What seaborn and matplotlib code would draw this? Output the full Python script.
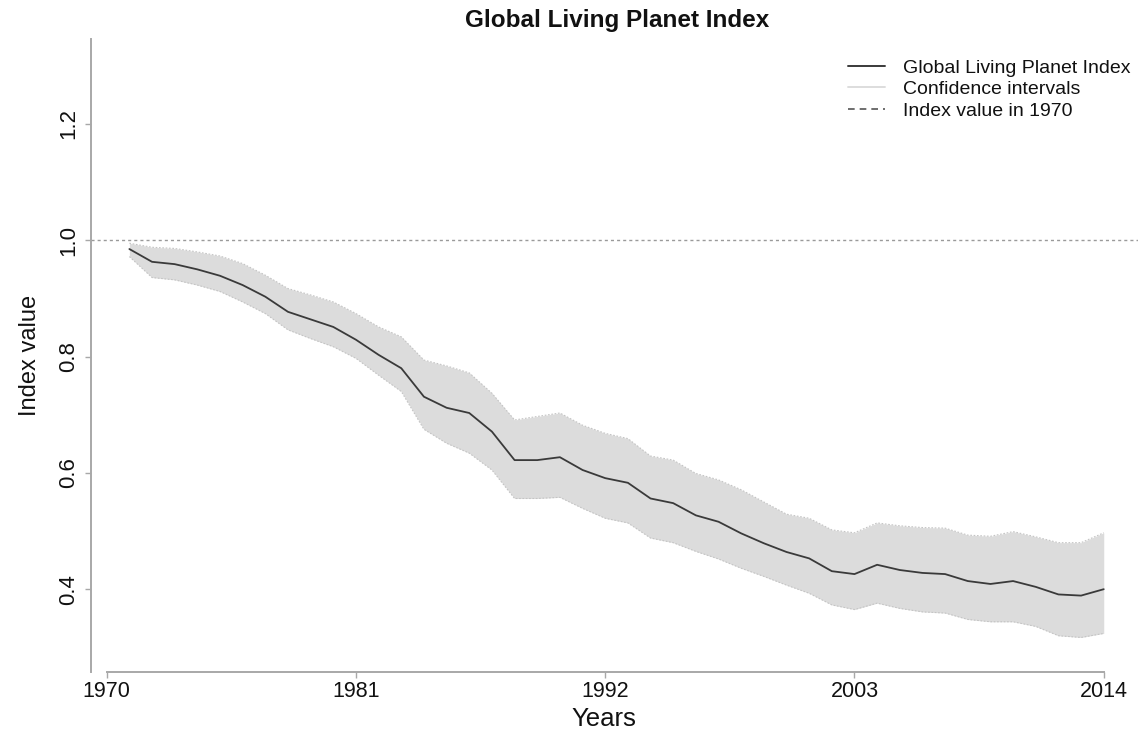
import matplotlib
matplotlib.use("Agg")
import matplotlib.pyplot as plt
from matplotlib.lines import Line2D
import seaborn as sns
import pandas as pd

# Global Living Planet Index, 1971-2014, with confidence bounds
years = list(range(1971, 2015))
index_value = [0.985, 0.963, 0.959, 0.950, 0.939, 0.923, 0.903, 0.877, 0.864, 0.851,
               0.829, 0.803, 0.780, 0.731, 0.712, 0.703, 0.671, 0.622, 0.622, 0.627,
               0.605, 0.591, 0.583, 0.556, 0.548, 0.527, 0.516, 0.496, 0.479, 0.464,
               0.453, 0.431, 0.426, 0.442, 0.433, 0.428, 0.426, 0.414, 0.409, 0.414,
               0.404, 0.391, 0.389, 0.400]
ci_upper = [0.995, 0.988, 0.986, 0.980, 0.973, 0.960, 0.940, 0.917, 0.906, 0.894,
            0.874, 0.851, 0.834, 0.794, 0.784, 0.772, 0.737, 0.691, 0.697, 0.703,
            0.682, 0.668, 0.659, 0.629, 0.622, 0.599, 0.588, 0.571, 0.550, 0.529,
            0.522, 0.502, 0.497, 0.514, 0.509, 0.506, 0.505, 0.493, 0.491, 0.499,
            0.490, 0.480, 0.480, 0.497]
ci_lower = [0.972, 0.936, 0.932, 0.923, 0.912, 0.894, 0.874, 0.846, 0.831, 0.817,
            0.797, 0.768, 0.740, 0.675, 0.651, 0.634, 0.605, 0.556, 0.556, 0.558,
            0.539, 0.522, 0.514, 0.488, 0.480, 0.465, 0.452, 0.436, 0.422, 0.407,
            0.393, 0.373, 0.365, 0.376, 0.367, 0.361, 0.359, 0.348, 0.344, 0.344,
            0.336, 0.320, 0.317, 0.324]
baseline_value = 1.0

x_ticks = [1970, 1981, 1992, 2003, 2014]
y_ticks = [0.4, 0.6, 0.8, 1.0, 1.2]

df = pd.DataFrame({"Year": years, "LPI": index_value,
                   "upper": ci_upper, "lower": ci_lower})

sns.set_style("white")
plt.rcParams["font.family"] = ["Liberation Sans", "DejaVu Sans"]

W, H = 1138, 733
fig = plt.figure(figsize=(W / 100, H / 100), dpi=100)
ax_left, ax_top, ax_bottom = 90.7, 39.3, 671.7
ax = fig.add_axes([ax_left / W, 1 - ax_bottom / H,
                   (W - ax_left) / W, (ax_bottom - ax_top) / H])

axis_grey = "#a8a8a8"

# confidence band
ax.fill_between(df["Year"], df["lower"], df["upper"],
                color="#dcdcdc", linewidth=0, zorder=1)
ax.plot(df["Year"], df["upper"], color="#c4c4c4", lw=0.8,
        linestyle=(0, (1.5, 1.5)), zorder=1.5)
ax.plot(df["Year"], df["lower"], color="#c4c4c4", lw=0.8,
        linestyle=(0, (1.5, 1.5)), zorder=1.5)

# 1970 reference level
ax.axhline(baseline_value, color="#9a9a9a", lw=1.0,
           linestyle=(0, (2.2, 2.2)), zorder=1.2)

# index line
sns.lineplot(data=df, x="Year", y="LPI", ax=ax, color="#3a3a3a",
             linewidth=1.3, zorder=3)

px_per_year = 22.66
x0_px = 106.7
ax.set_xlim(1970 - (x0_px - ax_left) / px_per_year,
            1970 + (W - x0_px) / px_per_year)
px_per_unit = 581.5
y1_px = 240.3
ax.set_ylim(1 - (ax_bottom - y1_px) / px_per_unit,
            1 + (y1_px - ax_top) / px_per_unit)

ax.set_xticks(x_ticks)
ax.set_xticklabels([str(v) for v in x_ticks])
ax.set_yticks(y_ticks)
ax.set_yticklabels([f"{v:.1f}" for v in y_ticks], rotation=90, va="center")

for side in ["top", "right"]:
    ax.spines[side].set_visible(False)
for side in ["left", "bottom"]:
    ax.spines[side].set_color(axis_grey)
    ax.spines[side].set_linewidth(1.4)
ax.spines["bottom"].set_bounds(1970, 2014)

ax.tick_params(axis="both", which="major", direction="out", length=4,
               width=1.0, color=axis_grey, labelcolor="#111111",
               left=True, bottom=True)
ax.tick_params(axis="y", pad=4, labelsize=16)
ax.tick_params(axis="x", pad=3, labelsize=15.5)

ax.set_xlabel("Years", fontsize=18.5, color="#111111")
ax.set_ylabel("Index value", fontsize=17, color="#111111")
ax.xaxis.set_label_coords((604 - ax_left) / (W - ax_left),
                          (ax_bottom - 719) / (ax_bottom - ax_top))
ax.xaxis.label.set_va("center")
ax.yaxis.set_label_coords((30 - ax_left) / (W - ax_left),
                          (ax_bottom - 355) / (ax_bottom - ax_top))
ax.yaxis.label.set_va("center")

fig.text(617 / W, 1 - 20 / H, "Global Living Planet Index",
         ha="center", va="center", fontsize=17.5, fontweight="bold",
         color="#111111")

handles = [
    Line2D([], [], color="#3a3a3a", lw=1.4),
    Line2D([], [], color="#dddddd", lw=1.4),
    Line2D([], [], color="#555555", lw=1.2, linestyle=(0, (4, 3))),
]
labels = ["Global Living Planet Index", "Confidence intervals",
          "Index value in 1970"]
ax.legend(handles, labels, loc="upper left", frameon=False, fontsize=14,
          bbox_to_anchor=((848 - ax_left) / (W - ax_left),
                          (ax_bottom - 59) / (ax_bottom - ax_top)),
          borderaxespad=0, borderpad=0, handlelength=1.9,
          handletextpad=0.95, labelspacing=0.21, labelcolor="#111111")

fig.savefig("out.png", dpi=100)
